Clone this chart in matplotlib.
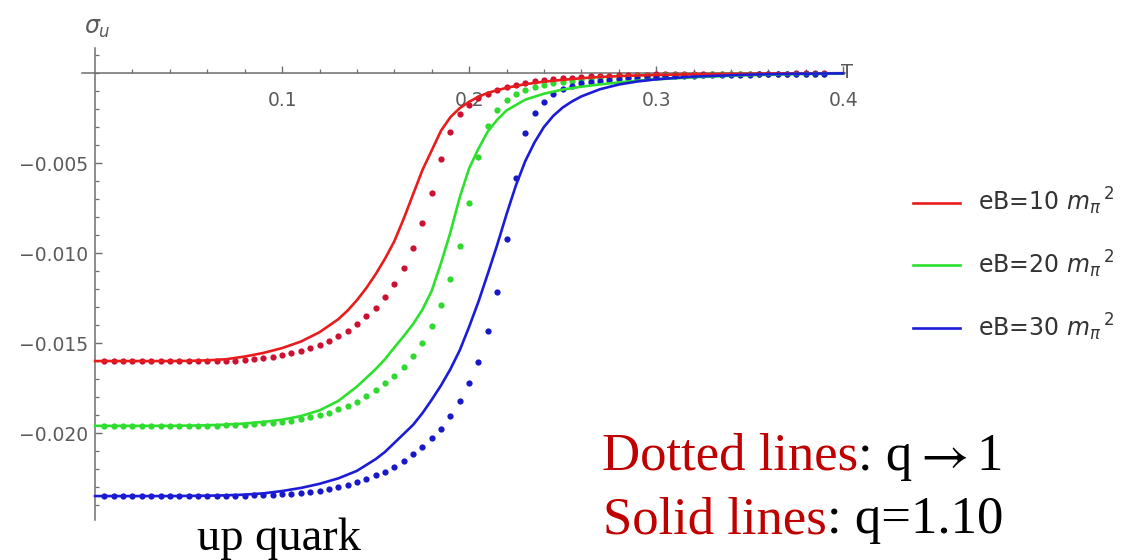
import numpy as np
import matplotlib.pyplot as plt
from matplotlib.ticker import FixedLocator, NullFormatter

plt.rcParams['mathtext.fontset'] = 'dejavusans'

# q -> 1 curves, sampled every 0.005 in T (sigma in units of 1e-3)
t_dots = [0.005, 0.010, 0.015, 0.020, 0.025, 0.030, 0.035, 0.040, 0.045, 0.050,
          0.055, 0.060, 0.065, 0.070, 0.075, 0.080, 0.085, 0.090, 0.095, 0.100,
          0.105, 0.110, 0.115, 0.120, 0.125, 0.130, 0.135, 0.140, 0.145, 0.150,
          0.155, 0.160, 0.165, 0.170, 0.175, 0.180, 0.185, 0.190, 0.195, 0.200,
          0.205, 0.210, 0.215, 0.220, 0.225, 0.230, 0.235, 0.240, 0.245, 0.250,
          0.255, 0.260, 0.265, 0.270, 0.275, 0.280, 0.285, 0.290, 0.295, 0.300,
          0.305, 0.310, 0.315, 0.320, 0.325, 0.330, 0.335, 0.340, 0.345, 0.350,
          0.355, 0.360, 0.365, 0.370, 0.375, 0.380, 0.385, 0.390]

red_dots = [-16.00, -16.00, -16.00, -16.00, -16.00, -16.00, -16.00, -16.00, -16.00, -16.00,
            -16.00, -16.00, -16.00, -15.99, -15.97, -15.94, -15.90, -15.85, -15.78, -15.69,
            -15.58, -15.45, -15.30, -15.10, -14.87, -14.63, -14.33, -13.96, -13.52, -13.04,
            -12.44, -11.72, -10.83, -9.72, -8.33, -6.67, -4.80, -3.30, -2.30, -1.75,
            -1.40, -1.14, -0.94, -0.78, -0.65, -0.55, -0.47, -0.40, -0.34, -0.29,
            -0.25, -0.22, -0.19, -0.17, -0.15, -0.13, -0.11, -0.10, -0.09, -0.08,
            -0.07, -0.07, -0.06, -0.06, -0.05, -0.05, -0.05, -0.04, -0.04, -0.04,
            -0.03, -0.03, -0.03, -0.03, -0.02, -0.02, -0.02, -0.02]

green_dots = [-19.60, -19.60, -19.60, -19.60, -19.60, -19.60, -19.60, -19.60, -19.60, -19.60,
              -19.60, -19.60, -19.59, -19.58, -19.56, -19.53, -19.50, -19.46, -19.42, -19.37,
              -19.31, -19.23, -19.13, -19.01, -18.87, -18.69, -18.49, -18.25, -17.95, -17.62,
              -17.24, -16.81, -16.31, -15.74, -14.97, -14.06, -12.89, -11.44, -9.61, -7.22,
              -4.67, -2.94, -2.06, -1.50, -1.15, -0.94, -0.79, -0.67, -0.57, -0.49,
              -0.43, -0.38, -0.33, -0.29, -0.26, -0.23, -0.20, -0.18, -0.16, -0.15,
              -0.13, -0.12, -0.11, -0.10, -0.09, -0.08, -0.08, -0.07, -0.06, -0.06,
              -0.05, -0.05, -0.04, -0.04, -0.04, -0.03, -0.03, -0.03]

blue_dots = [-23.50, -23.50, -23.50, -23.50, -23.50, -23.50, -23.50, -23.50, -23.50, -23.50,
             -23.50, -23.50, -23.50, -23.49, -23.48, -23.47, -23.46, -23.44, -23.42, -23.40,
             -23.37, -23.33, -23.28, -23.22, -23.13, -23.02, -22.89, -22.74, -22.56, -22.35,
             -22.14, -21.89, -21.55, -21.17, -20.78, -20.28, -19.78, -19.06, -18.22, -17.22,
             -16.06, -14.33, -12.17, -9.22, -5.83, -3.33, -2.22, -1.61, -1.15, -0.89,
             -0.72, -0.58, -0.49, -0.42, -0.37, -0.33, -0.29, -0.26, -0.23, -0.21,
             -0.19, -0.17, -0.16, -0.15, -0.13, -0.12, -0.11, -0.10, -0.09, -0.09,
             -0.08, -0.07, -0.07, -0.06, -0.06, -0.05, -0.05, -0.05]

# q = 1.10 curves
t_red = [0.000, 0.020, 0.040, 0.050, 0.060, 0.070, 0.080, 0.090, 0.100, 0.110,
         0.120, 0.130, 0.135, 0.140, 0.145, 0.150, 0.155, 0.160, 0.165, 0.170,
         0.175, 0.180, 0.185, 0.190, 0.195, 0.200, 0.205, 0.210, 0.220, 0.230,
         0.240, 0.250, 0.260, 0.270, 0.285, 0.300, 0.325, 0.350, 0.375, 0.400]
red_solid = [-16.00, -16.00, -16.00, -15.99, -15.96, -15.90, -15.75, -15.55, -15.28, -14.92,
             -14.40, -13.68, -13.20, -12.62, -11.95, -11.18, -10.32, -9.35, -8.10, -6.75,
             -5.40, -4.30, -3.20, -2.45, -1.95, -1.60, -1.32, -1.10, -0.82, -0.62,
             -0.48, -0.38, -0.29, -0.22, -0.15, -0.11, -0.06, -0.04, -0.02, -0.01]

t_green = [0.000, 0.020, 0.040, 0.060, 0.070, 0.080, 0.090, 0.100, 0.110, 0.120,
           0.130, 0.140, 0.150, 0.155, 0.160, 0.165, 0.170, 0.175, 0.180, 0.185,
           0.190, 0.195, 0.200, 0.205, 0.210, 0.215, 0.220, 0.230, 0.240, 0.250,
           0.260, 0.270, 0.285, 0.300, 0.325, 0.350, 0.375, 0.400]
green_solid = [-19.60, -19.60, -19.60, -19.57, -19.53, -19.47, -19.38, -19.26, -19.06, -18.74,
               -18.22, -17.42, -16.45, -15.90, -15.25, -14.62, -13.95, -13.15, -12.10, -10.55,
               -8.85, -6.90, -5.30, -4.20, -3.25, -2.60, -2.08, -1.48, -1.15, -0.92,
               -0.76, -0.63, -0.47, -0.35, -0.21, -0.12, -0.06, -0.03]

t_blue = [0.000, 0.020, 0.040, 0.060, 0.070, 0.080, 0.090, 0.100, 0.110, 0.120,
          0.130, 0.140, 0.150, 0.155, 0.160, 0.165, 0.170, 0.175, 0.180, 0.185,
          0.190, 0.195, 0.200, 0.205, 0.210, 0.215, 0.220, 0.225, 0.230, 0.235,
          0.240, 0.245, 0.250, 0.255, 0.260, 0.270, 0.280, 0.290, 0.300, 0.320,
          0.350, 0.375, 0.400]
blue_solid = [-23.50, -23.50, -23.50, -23.48, -23.46, -23.42, -23.35, -23.22, -23.05, -22.82,
              -22.52, -22.10, -21.45, -21.05, -20.55, -20.05, -19.55, -18.90, -18.15, -17.35,
              -16.45, -15.40, -14.10, -12.70, -11.15, -9.55, -7.85, -6.25, -4.90, -3.85,
              -3.00, -2.38, -1.92, -1.58, -1.30, -0.90, -0.64, -0.47, -0.35, -0.20,
              -0.09, -0.04, -0.02]

labels = [r'eB=10 $m_\pi\,{}^2$', r'eB=20 $m_\pi\,{}^2$', r'eB=30 $m_\pi\,{}^2$']
line_colors = ['#e81c1c', '#2ee02e', '#1c1cd8']
dot_colors = ['#cc1030', '#30d830', '#1818c8']

W, H = 1142, 560
fig = plt.figure(figsize=(W / 100, H / 100), dpi=100)
ax = fig.add_axes([82 / W, 40 / H, 763 / W, 472 / H])

solid = [(t_red, red_solid), (t_green, green_solid), (t_blue, blue_solid)]
dots = [red_dots, green_dots, blue_dots]
handles = []
for (t, s), d, lc, dc in zip(solid, dots, line_colors, dot_colors):
    ax.plot(t_dots, np.array(d) * 1e-3, 'o', color=dc, ms=4.5, mew=0, zorder=3)
    h, = ax.plot(t, np.array(s) * 1e-3, '-', color=lc, lw=1.9, zorder=4)
    handles.append(h)

ax.set_xlim(-0.007, 0.401)
ax.set_ylim(-0.02483, 0.00139)

# axes crossing at the origin
axis_gray = '#6e6e6e'
for side in ['top', 'right']:
    ax.spines[side].set_visible(False)
for side in ['left', 'bottom']:
    ax.spines[side].set_position(('data', 0))
    ax.spines[side].set_color(axis_gray)
    ax.spines[side].set_linewidth(1.1)
    ax.spines[side].set_zorder(1)
ax.set_axisbelow(True)

ax.xaxis.set_major_locator(FixedLocator([0.1, 0.2, 0.3, 0.4]))
ax.xaxis.set_minor_locator(FixedLocator([0.02, 0.04, 0.06, 0.08, 0.12, 0.14, 0.16, 0.18,
                                         0.22, 0.24, 0.26, 0.28, 0.32, 0.34, 0.36, 0.38]))
ax.set_xticklabels(['0.1', '0.2', '0.3', '0.4'])
yt = [-0.020, -0.015, -0.010, -0.005]
ax.yaxis.set_major_locator(FixedLocator(yt))
ax.yaxis.set_minor_locator(FixedLocator([i * 0.001 for i in range(-24, 2)]))
ax.set_yticklabels(['\u22120.020', '\u22120.015', '\u22120.010', '\u22120.005'])
ax.yaxis.set_minor_formatter(NullFormatter())

ax.tick_params(which='both', direction='in', colors=axis_gray, labelcolor='#5a5a5a',
               labelsize=13.5)
ax.tick_params(which='major', length=5, width=1.0)
ax.tick_params(which='minor', length=3, width=0.9)
ax.tick_params(axis='x', pad=13)
ax.tick_params(axis='y', pad=5)

fig.text(97 / W, 1 - 28 / H, r'$\sigma_u$', ha='center', va='center',
         fontsize=17, color='#5a5a5a')
fig.text(841 / W, 1 - 72 / H, 'T', ha='left', va='center', fontsize=14, color='#5a5a5a')

fig.legend(handles, labels, loc='upper left', bbox_to_anchor=(913 / W, 1 - 186 / H),
           frameon=False, fontsize=17, handlelength=2.0, handletextpad=0.75,
           labelspacing=1.33, borderpad=0, borderaxespad=0, labelcolor='#333333')

fig.text(279 / W, 1 - 550 / H, 'up quark', ha='center', va='baseline',
         fontsize=33.5, family='Liberation Serif', color='black')

renderer = fig.canvas.get_renderer()


def chained_text(x, y, parts, size):
    # place pieces one after another on a common baseline (x, y in pixels)
    for s, c, gap in parts:
        x += gap
        t = fig.text(x / W, 1 - y / H, s, color=c, fontsize=size, ha='left',
                     va='baseline', family='Liberation Serif', math_fontfamily='stix')
        x += t.get_window_extent(renderer).width


chained_text(602, 470, [('Dotted lines', '#c00000', 0), (': q', 'black', 0),
                        (r'$\rightarrow$', 'black', 1), ('1', 'black', 8)], 38)
chained_text(603, 533, [('Solid lines', '#c00000', 0), (': q=1.10', 'black', 0)], 38)

fig.savefig('out.png', dpi=100)
